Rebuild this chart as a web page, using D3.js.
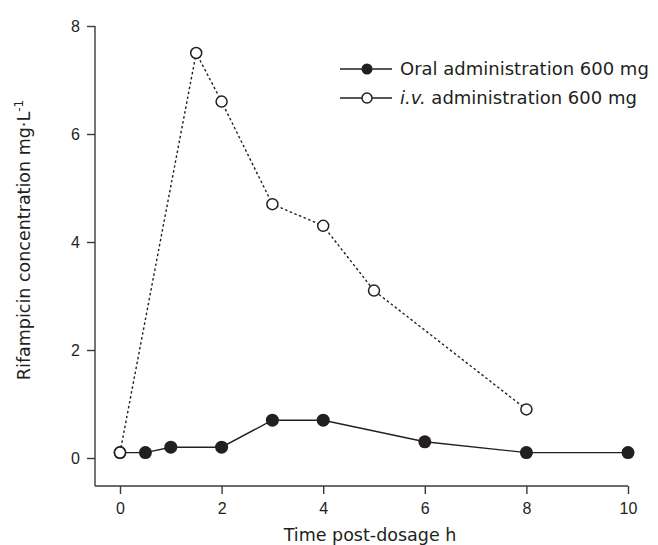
<!doctype html>
<html>
  <head>
    <script src="https://cdnjs.cloudflare.com/ajax/libs/d3/7.8.5/d3.min.js"></script>
    <style>
      body { margin: 0; background: #fff; }
      svg { font-family: "DejaVu Sans", sans-serif; }
      .axis path, .axis line { stroke: #3a3a3a; stroke-width: 1.4; }
      .axis text { font-size: 16px; fill: #231f20; }
      .label { font-size: 17.5px; fill: #231f20; }
      .legend-text { font-size: 18px; fill: #231f20; }
      path.oral { fill: none; stroke: #231f20; stroke-width: 1.4; }
      path.iv { fill: none; stroke: #231f20; stroke-width: 1.4; stroke-dasharray: 2.5 2.5; }
      circle.oral { fill: #231f20; }
      circle.iv { fill: #fff; stroke: #231f20; stroke-width: 1.5; }
    </style>
  </head>
  <body>
    <svg width="658" height="545"></svg>
    <script>
      var oralTime = [0, 0.5, 1, 2, 3, 4, 6, 8, 10];
      var oralConc = [0.1, 0.1, 0.2, 0.2, 0.7, 0.7, 0.3, 0.1, 0.1];
      var ivTime = [0, 1.5, 2, 3, 4, 5, 8];
      var ivConc = [0.1, 7.5, 6.6, 4.7, 4.3, 3.1, 0.9];
      var xTicks = [0, 2, 4, 6, 8, 10];
      var yTicks = [0, 2, 4, 6, 8];

      var oral = oralTime.map((t, i) => ({x: t, y: oralConc[i]}));
      var iv = ivTime.map((t, i) => ({x: t, y: ivConc[i]}));

      var svg = d3.select("svg");
      var x = d3.scaleLinear().domain([0, 10]).range([120, 628]);
      var y = d3.scaleLinear().domain([0, 8]).range([458, 26]);
      var axisY = 486, axisX = 95;

      // axes
      svg.append("g").attr("class", "axis")
        .attr("transform", "translate(0," + axisY + ")")
        .call(d3.axisBottom(x).tickValues(xTicks).tickSize(8).tickSizeOuter(0).tickPadding(9))
        .call(g => g.select(".domain").attr("d", "M" + axisX + ",0H" + x(10)));

      svg.append("g").attr("class", "axis")
        .attr("transform", "translate(" + axisX + ",0)")
        .call(d3.axisLeft(y).tickValues(yTicks).tickSize(8).tickSizeOuter(0).tickPadding(7))
        .call(g => g.select(".domain").attr("d", "M0," + y(8) + "V" + axisY));

      // axis titles
      svg.append("text").attr("class", "label")
        .attr("x", 370).attr("y", 541).attr("text-anchor", "middle")
        .text("Time post-dosage h");

      var yl = svg.append("text").attr("class", "label")
        .attr("transform", "translate(30,240) rotate(-90)")
        .attr("text-anchor", "middle");
      yl.append("tspan").text("Rifampicin concentration mg\u00b7L");
      yl.append("tspan").attr("dy", -7).style("font-size", "12px").text("-1");

      var line = d3.line().x(d => x(d.x)).y(d => y(d.y));

      svg.append("path").datum(oral).attr("class", "oral").attr("d", line);
      svg.append("path").datum(iv).attr("class", "iv").attr("d", line);

      svg.selectAll("circle.oral").data(oral).enter().append("circle")
        .attr("class", "oral").attr("r", 6.5)
        .attr("cx", d => x(d.x)).attr("cy", d => y(d.y));
      svg.selectAll("circle.iv").data(iv).enter().append("circle")
        .attr("class", "iv").attr("r", 5.5)
        .attr("cx", d => x(d.x)).attr("cy", d => y(d.y));

      // legend
      var legend = svg.append("g");
      legend.append("line").attr("x1", 340).attr("x2", 392).attr("y1", 69).attr("y2", 69)
        .attr("stroke", "#231f20").attr("stroke-width", 1.4);
      legend.append("circle").attr("class", "oral").attr("cx", 367).attr("cy", 69).attr("r", 5.5);
      legend.append("text").attr("class", "legend-text").attr("x", 400).attr("y", 75)
        .text("Oral administration 600 mg");

      legend.append("line").attr("x1", 340).attr("x2", 392).attr("y1", 98).attr("y2", 98)
        .attr("stroke", "#231f20").attr("stroke-width", 1.4);
      legend.append("circle").attr("class", "iv").attr("cx", 367).attr("cy", 98).attr("r", 5);
      var t2 = legend.append("text").attr("class", "legend-text").attr("x", 400).attr("y", 104);
      t2.append("tspan").style("font-style", "italic").text("i.v.");
      t2.append("tspan").text(" administration 600 mg");
    </script>
  </body>
</html>
